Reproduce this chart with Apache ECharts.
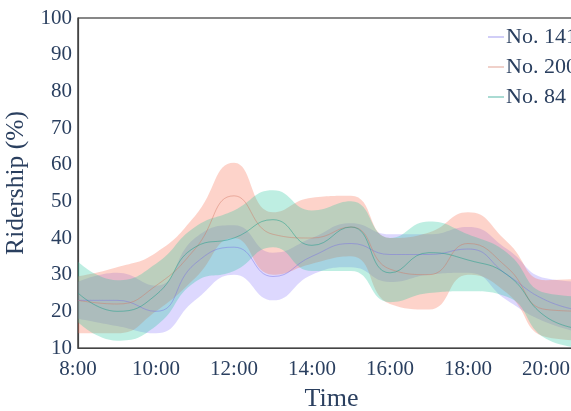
<!DOCTYPE html>
<html>
<head>
<meta charset="utf-8">
<script src="https://cdn.jsdelivr.net/npm/echarts@6/dist/echarts.min.js"></script>
<style>html,body{margin:0;padding:0;background:#fff;}#c{width:571px;height:411px;}</style>
</head>
<body>
<div id="c"></div>
<script>
// Time categories (hourly)
const times = ['8:00', '9:00', '10:00', '11:00', '12:00', '13:00', '14:00', '15:00', '16:00', '17:00', '18:00', '19:00', '20:00', '21:00'];
const seriesNames = ['No. 141', 'No. 200', 'No. 84'];

// No. 141
const mean141  = [23, 23, 20, 33, 37.5, 29.5, 35, 38.5, 35.5, 35.5, 37, 30, 23, 20];
const upper141 = [28, 30.5, 27, 40, 43.5, 36, 40, 44, 41, 41, 43, 37, 29, 28];
const lower141 = [18, 16, 14, 23, 30, 23, 30, 32, 28, 30, 30.5, 23, 17, 14];

// No. 200
const mean200  = [23, 22, 27, 37, 51.5, 41, 40, 43, 31.5, 30, 38.5, 32, 20.5, 20];
const upper200 = [29.5, 32, 36, 46, 60.5, 47, 51, 51.5, 40, 41.5, 47, 39, 28.5, 29];
const lower200 = [14, 14, 20, 29, 40, 30, 33, 35, 22, 20.5, 30, 25, 13, 12];

// No. 84
const mean84  = [25, 20, 24.5, 37.5, 40, 45, 38, 43, 30.5, 36, 34, 30, 18.5, 15];
const upper84 = [33.5, 28.5, 33, 43, 47.5, 53, 47.5, 50, 40, 44.5, 41, 36, 25, 24];
const lower84 = [17, 12, 16, 28, 31, 37.5, 31, 31, 22.5, 25, 25.5, 24, 12.5, 10];

const fillColors = ['rgba(120,100,250,0.25)', 'rgba(250,110,80,0.3)', 'rgba(40,200,160,0.3)'];
const lineColors = ['rgba(120,110,230,0.45)', 'rgba(210,120,100,0.45)', 'rgba(30,160,140,0.5)'];

const means = [mean141, mean200, mean84];
const uppers = [upper141, upper200, upper84];
const lowers = [lower141, lower200, lower84];

const font = 'Liberation Serif, Times New Roman, serif';
const txt = '#2a3f5f';

const series = [];
seriesNames.forEach((name, k) => {
  series.push({
    name: name + ' lower', type: 'line', stack: 'band' + k, smooth: 0.5, symbol: 'none', silent: true,
    lineStyle: { opacity: 0 },
    data: lowers[k].slice()
  });
  series.push({
    name: name + ' band', type: 'line', stack: 'band' + k, smooth: 0.5, symbol: 'none', silent: true,
    lineStyle: { opacity: 0 },
    areaStyle: { color: fillColors[k], opacity: 1 },
    data: uppers[k].map((u, i) => u - lowers[k][i])
  });
});
seriesNames.forEach((name, k) => {
  series.push({
    name: name, type: 'line', smooth: 0.5, symbol: 'none',
    lineStyle: { color: lineColors[k], width: 1 },
    itemStyle: { color: lineColors[k] },
    data: means[k].slice()
  });
});

const chart = echarts.init(document.getElementById('c'), null, { renderer: 'canvas' });
chart.setOption({
  animation: false,
  backgroundColor: '#fff',
  grid: {
    left: 78, top: 18, width: 507, height: 330, containLabel: false, outerBoundsMode: 'none',
    show: true, borderColor: '#111', borderWidth: 1.2, backgroundColor: 'transparent'
  },
  legend: {
    data: seriesNames, orient: 'vertical', left: 483, top: 21, itemGap: 8,
    icon: 'rect', itemWidth: 16, itemHeight: 1.5,
    textStyle: { fontFamily: font, fontSize: 22, color: txt, padding: [0, 0, 0, -3] }
  },
  xAxis: {
    type: 'category', data: times, boundaryGap: false,
    name: 'Time', nameLocation: 'middle', nameGap: 38,
    nameTextStyle: { fontFamily: font, fontSize: 26, color: txt },
    axisLine: { show: true, lineStyle: { color: '#444', width: 1.2 } },
    axisTick: { show: false },
    splitLine: { show: false },
    axisLabel: { fontFamily: font, fontSize: 21, color: txt, margin: 11, interval: 1 }
  },
  yAxis: {
    type: 'value', min: 10, max: 100, interval: 10,
    name: 'Ridership (%)', nameLocation: 'middle', nameGap: 42,
    nameTextStyle: { fontFamily: font, fontSize: 25.5, color: txt },
    axisLine: { show: true, lineStyle: { color: '#444', width: 1.2 } },
    axisTick: { show: false },
    splitLine: { show: false },
    axisLabel: { fontFamily: font, fontSize: 21, color: txt, margin: 6 }
  },
  series: series
});
</script>
</body>
</html>
